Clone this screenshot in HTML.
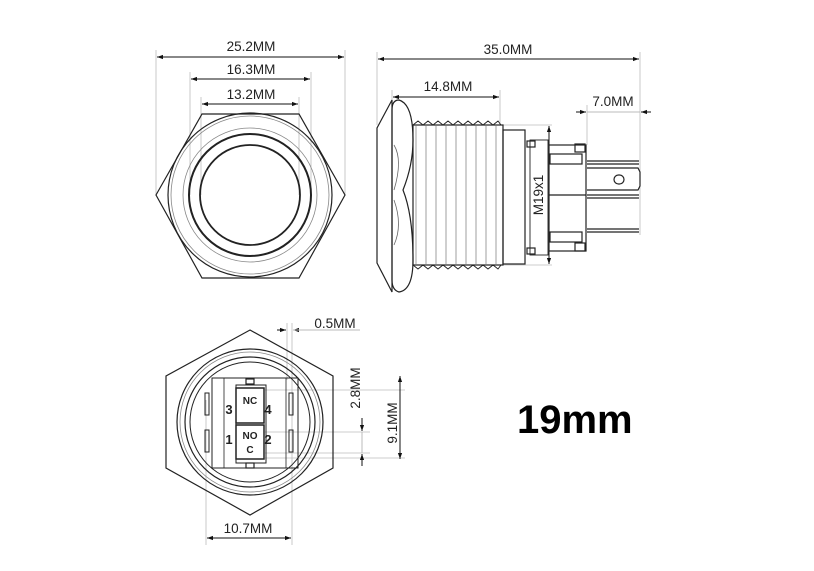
<!DOCTYPE html>
<html><head><meta charset="utf-8"><style>
html,body{margin:0;padding:0;background:#fff;}
svg{display:block;}
text{font-family:"Liberation Sans",sans-serif;fill:#222;}
</style></head><body>
<svg width="814" height="571" viewBox="0 0 814 571" xmlns="http://www.w3.org/2000/svg">
<defs>
<marker id="a" viewBox="0 0 10 10" refX="10" refY="5" markerWidth="8" markerHeight="6" orient="auto-start-reverse"><path d="M0,1.5 L10,5 L0,8.5z" fill="#111"/></marker>
</defs>
<g stroke="#bbb" stroke-width="0.8" fill="none">
<line x1="156" y1="50" x2="156" y2="195"/><line x1="345" y1="50" x2="345" y2="195"/>
<line x1="190" y1="72" x2="190" y2="195"/><line x1="311" y1="72" x2="311" y2="195"/>
<line x1="201" y1="97" x2="201" y2="195"/><line x1="299" y1="97" x2="299" y2="195"/>
<line x1="377" y1="52" x2="377" y2="125"/><line x1="640" y1="52" x2="640" y2="235"/>
<line x1="392" y1="90" x2="392" y2="105"/><line x1="500" y1="90" x2="500" y2="125"/>
<line x1="587" y1="105" x2="587" y2="145"/>
<line x1="503" y1="125" x2="552" y2="125"/><line x1="503" y1="265" x2="552" y2="265"/>
<line x1="206" y1="400" x2="206" y2="545"/><line x1="292" y1="323" x2="292" y2="545"/>
<line x1="287" y1="323" x2="287" y2="380"/>
<line x1="265" y1="390" x2="405" y2="390"/><line x1="265" y1="432" x2="370" y2="432"/>
<line x1="265" y1="453" x2="370" y2="453"/><line x1="265" y1="458" x2="405" y2="458"/>
</g>
<g stroke="#111" stroke-width="1" fill="none">
<line x1="157" y1="57" x2="344" y2="57" marker-start="url(#a)" marker-end="url(#a)"/>
<line x1="191" y1="79" x2="310" y2="79" marker-start="url(#a)" marker-end="url(#a)"/>
<line x1="202" y1="104" x2="298" y2="104" marker-start="url(#a)" marker-end="url(#a)"/>
<line x1="378" y1="59" x2="639" y2="59" marker-start="url(#a)" marker-end="url(#a)"/>
<line x1="393" y1="97" x2="499" y2="97" marker-start="url(#a)" marker-end="url(#a)"/>
<line x1="576" y1="112" x2="586" y2="112" marker-end="url(#a)"/>
<line x1="651" y1="112" x2="641" y2="112" marker-end="url(#a)"/>
<line x1="587" y1="112" x2="640" y2="112" stroke="#bbb"/>
<line x1="549" y1="126" x2="549" y2="264" marker-start="url(#a)" marker-end="url(#a)"/>
<line x1="277" y1="330" x2="286" y2="330" marker-end="url(#a)"/>
<line x1="302" y1="330" x2="293" y2="330" marker-end="url(#a)"/>
<line x1="293" y1="330" x2="360" y2="330" stroke="#bbb"/>
<line x1="207" y1="538" x2="291" y2="538" marker-start="url(#a)" marker-end="url(#a)"/>
<line x1="362" y1="418" x2="362" y2="431" marker-end="url(#a)"/>
<line x1="362" y1="432" x2="362" y2="453" stroke="#bbb"/>
<line x1="362" y1="466" x2="362" y2="454" marker-end="url(#a)"/>
<line x1="400" y1="376" x2="400" y2="459" marker-start="url(#a)" marker-end="url(#a)"/>
</g>
<g font-size="13.5" text-anchor="middle">
<text x="251" y="51">25.2MM</text><text x="251" y="74">16.3MM</text><text x="251" y="99">13.2MM</text>
<text x="508" y="54">35.0MM</text><text x="448" y="91">14.8MM</text><text x="613" y="106">7.0MM</text>
<text x="335" y="328">0.5MM</text><text x="248" y="533">10.7MM</text>
<text transform="translate(543,195) rotate(-90)">M19x1</text>
<text transform="translate(360,388) rotate(-90)">2.8MM</text>
<text transform="translate(397,423) rotate(-90)">9.1MM</text>
</g>
<g stroke="#222" fill="none">
<polygon points="156,195 202,114 299,114 345,195 299,278 202,278" stroke-width="1.2"/>
<circle cx="250" cy="195" r="82" stroke-width="1.2"/>
<circle cx="250" cy="195" r="79" stroke="#888" stroke-width="0.8"/>
<circle cx="250" cy="195" r="67" stroke="#888" stroke-width="0.8"/>
<circle cx="250" cy="195" r="61" stroke-width="2"/>
<circle cx="250" cy="195" r="50" stroke-width="1.8"/>
</g>
<g stroke="#222" fill="none" stroke-width="1.2">
<path d="M377,128 L392,100 L392,292 L377,263 Z"/>
<path d="M399,100 Q413,104 413,140 Q413,165 403,190 Q413,215 413,260 Q413,290 399,292 Q392,290 392,280 L392,110 Q392,100 399,100 Z"/>
<path d="M394,145 Q403,160 394,190 M394,200 Q403,225 394,245" stroke="#666" stroke-width="0.8"/>
<rect x="413" y="125" width="90" height="140"/>
<path d="M416,125 L416,265 M426,125 L426,265 M436,125 L436,265 M446,125 L446,265 M456,125 L456,265 M466,125 L466,265 M476,125 L476,265 M486,125 L486,265 M496,125 L496,265" stroke="#777" stroke-width="0.7"/>
<path d="M413,125 l5,-4 l5,4 l5,-4 l5,4 l5,-4 l5,4 l5,-4 l5,4 l5,-4 l5,4 l5,-4 l5,4 l5,-4 l5,4 l5,-4 l5,4 l5,-4 l3,4" stroke-width="0.9"/>
<path d="M413,265 l5,4 l5,-4 l5,4 l5,-4 l5,4 l5,-4 l5,4 l5,-4 l5,4 l5,-4 l5,4 l5,-4 l5,4 l5,-4 l5,4 l5,-4 l5,4 l3,-4" stroke-width="0.9"/>
<rect x="503" y="130" width="22" height="134"/>
<rect x="530" y="140" width="18" height="115" stroke-width="0.9"/>
<rect x="527" y="141" width="8" height="6"/><rect x="527" y="248" width="8" height="6"/>
<rect x="549" y="145" width="37" height="106"/>
<rect x="550" y="154" width="32" height="10"/><rect x="550" y="232" width="32" height="10"/>
<rect x="575" y="144" width="10" height="8"/><rect x="575" y="243" width="10" height="8"/>
<line x1="549" y1="195" x2="586" y2="195"/>
<line x1="587" y1="161" x2="639" y2="161"/><line x1="587" y1="164" x2="639" y2="164"/>
<line x1="587" y1="195" x2="639" y2="195"/><line x1="587" y1="198" x2="639" y2="198"/>
<line x1="587" y1="229" x2="639" y2="229"/><line x1="587" y1="232" x2="639" y2="232"/>
<path d="M587,168 L638,168 L640,172 L640,186 L638,190 L587,190"/>
<rect x="614" y="175" width="10" height="9" rx="4.5"/>
</g>
<g stroke="#222" fill="none" stroke-width="1.2">
<polygon points="250,330 333,376 333,468 250,515 166,468 166,376"/>
<circle cx="250" cy="422" r="73"/>
<circle cx="250" cy="422" r="70" stroke="#888" stroke-width="0.8"/>
<circle cx="250" cy="422" r="65"/>
<circle cx="250" cy="422" r="60" stroke-width="1"/>
<rect x="212" y="378" width="86" height="90" stroke-width="1"/>
<line x1="224" y1="378" x2="224" y2="468" stroke-width="0.8"/><line x1="286" y1="378" x2="286" y2="468" stroke-width="0.8"/>
<rect x="236" y="385" width="30" height="78" stroke-width="1"/>
<rect x="236" y="388" width="28" height="35" stroke-width="1.5"/>
<rect x="236" y="425" width="28" height="34" stroke-width="1.5"/>
<rect x="246" y="379" width="8" height="5"/><rect x="246" y="463" width="8" height="5"/>
<rect x="205" y="393" width="4" height="22" stroke-width="1"/><rect x="205" y="430" width="4" height="22" stroke-width="1"/>
<rect x="289" y="393" width="4" height="22" stroke-width="1"/><rect x="289" y="430" width="4" height="22" stroke-width="1"/>
</g>
<g font-size="13" font-weight="bold" text-anchor="middle">
<text x="229" y="414">3</text><text x="268" y="414">4</text>
<text x="229" y="444">1</text><text x="268" y="444">2</text>
<text x="250" y="404" font-size="10">NC</text>
<text x="250" y="439" font-size="10">NO</text>
<text x="250" y="453" font-size="10">C</text>
</g>
<text x="517" y="433" font-size="40" font-weight="bold" style="fill:#000">19mm</text>
</svg>
</body></html>
